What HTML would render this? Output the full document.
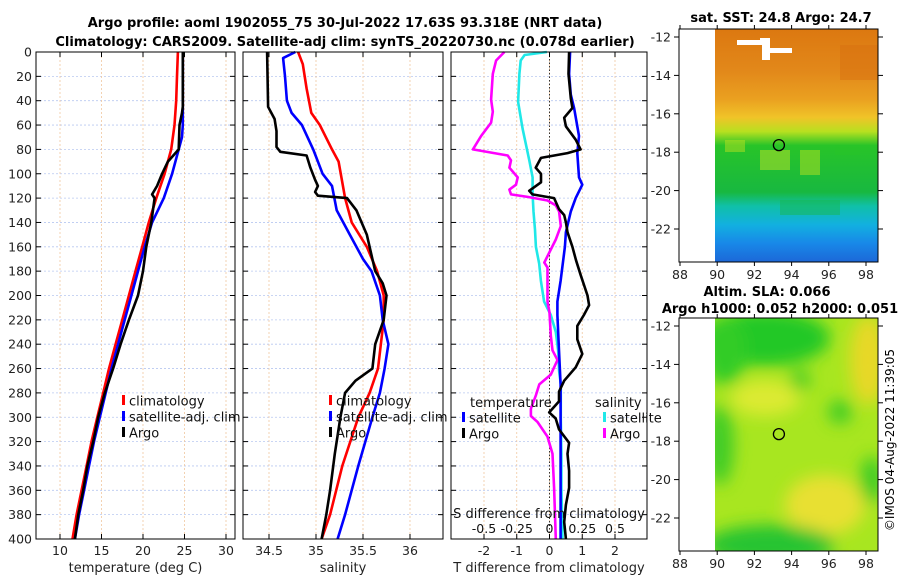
<!DOCTYPE html>
<html><head><meta charset="utf-8"><style>
body{margin:0;background:#fff}
svg{display:block;font-family:"DejaVu Sans","Liberation Sans",sans-serif}
</style></head><body>
<svg id="fig" width="900" height="580" viewBox="0 0 900 580" xmlns="http://www.w3.org/2000/svg">
<defs>
<linearGradient id="sstGrad" x1="0" y1="0" x2="0" y2="1">
<stop offset="0" stop-color="#dc7810"/><stop offset="0.18" stop-color="#e2881a"/>
<stop offset="0.3" stop-color="#eaa020"/><stop offset="0.38" stop-color="#f0c428"/>
<stop offset="0.44" stop-color="#b8e020"/><stop offset="0.5" stop-color="#28c428"/>
<stop offset="0.7" stop-color="#18b840"/><stop offset="0.76" stop-color="#10c0a8"/>
<stop offset="0.84" stop-color="#12b0e0"/><stop offset="0.92" stop-color="#1888e8"/>
<stop offset="1" stop-color="#1c68d8"/>
</linearGradient>
<filter id="blur"><feGaussianBlur stdDeviation="8"/></filter>
<clipPath id="clipSla"><rect x="715" y="318" width="163" height="233"/></clipPath>
</defs>
<g id="layer"></g>
<text x="345" y="27" text-anchor="middle" font-size="13" font-weight="bold">Argo profile: aoml 1902055_75 30-Jul-2022 17.63S 93.318E (NRT data)</text>
<text x="345" y="46" text-anchor="middle" font-size="13" font-weight="bold">Climatology: CARS2009. Satellite-adj clim: synTS_20220730.nc (0.078d earlier)</text>
<text x="781" y="22" text-anchor="middle" font-size="13" font-weight="bold">sat. SST: 24.8 Argo: 24.7</text>
<text x="767" y="296" text-anchor="middle" font-size="13" font-weight="bold">Altim. SLA: 0.066</text>
<text x="780" y="313" text-anchor="middle" font-size="13" font-weight="bold">Argo h1000: 0.052 h2000: 0.051</text>
<text transform="translate(894,440) rotate(-90)" text-anchor="middle" font-size="12">©IMOS 04-Aug-2022 11:39:05</text>
</svg>
<script>
// depth axis
const depthTicks=[0,20,40,60,80,100,120,140,160,180,200,220,240,260,280,300,320,340,360,380,400];
// temperature panel
const tDepth=[0,20,40,60,80,100,120,140,160,180,200,220,240,260,280,300,320,340,360,380,400];
const tClim=[24.2,24.1,24.0,23.8,23.4,22.6,21.6,20.7,19.9,19.1,18.3,17.5,16.7,15.9,15.2,14.5,13.8,13.2,12.6,12.0,11.5];
const tSatDepth=[0,60,70,80,100,120,140,160,180,200,220,240,260,280,300,320,340,360,380,400];
const tSat=[24.8,24.8,24.7,24.3,23.5,22.5,21.1,20.2,19.4,18.6,17.8,17.0,16.2,15.5,14.8,14.1,13.5,12.9,12.3,11.8];
const tArgoDepth=[0,45,50,60,80,90,100,110,117,120,140,160,180,200,220,240,260,280,300,320,340,360,380,400];
const tArgo=[24.8,24.8,24.7,24.4,24.3,23.0,22.3,21.7,21.1,21.4,21.0,20.4,20.0,19.4,18.3,17.3,16.4,15.4,14.6,14.0,13.3,12.8,12.2,11.8];
const tTicks=[10,15,20,25,30];
// salinity panel
const sClimDepth=[0,10,30,50,60,80,90,120,140,160,180,200,220,260,280,300,340,380,400];
const sClim=[34.81,34.86,34.90,34.95,35.04,35.17,35.24,35.31,35.38,35.54,35.65,35.72,35.72,35.66,35.57,35.45,35.28,35.15,35.06];
const sSatDepth=[0,5,20,40,50,60,80,100,110,130,150,170,180,200,220,240,260,280,300,340,380,400];
const sSat=[34.78,34.65,34.67,34.69,34.74,34.85,34.97,35.07,35.17,35.22,35.36,35.50,35.59,35.68,35.71,35.77,35.73,35.68,35.60,35.45,35.31,35.23];
const sArgoDepth=[0,45,55,65,78,82,85,95,105,110,115,118,120,130,150,170,180,190,200,220,240,260,270,280,300,330,360,380,400];
const sArgo=[34.48,34.49,34.56,34.58,34.58,34.62,34.90,34.94,34.99,35.02,34.99,35.02,35.33,35.43,35.54,35.60,35.63,35.71,35.75,35.72,35.63,35.60,35.42,35.31,35.26,35.20,35.15,35.11,35.06];
const sTicks=[34.5,35,35.5,36];
// difference panel
const dTTicks=[-2,-1,0,1,2];
const dSTicks=[-0.5,-0.25,0,0.25,0.5];
const dTSatDepth=[0,18,35,46,69,83,103,109,120,131,148,160,188,205,216,245,273,301,400];
const dTSat=[0.63,0.60,0.65,0.75,0.90,0.85,0.90,1.0,0.80,0.65,0.50,0.47,0.34,0.24,0.24,0.29,0.34,0.34,0.34];
const dTArgoDepth=[0,18,38,46,54,61,72,80,83,87,95,100,107,114,117,120,129,134,140,148,160,171,183,200,208,216,225,236,248,259,270,279,287,296,301,310,321,330,344,358,372,386,400];
const dTArgo=[0.60,0.58,0.65,0.70,0.45,0.50,0.80,0.95,0.55,-0.26,-0.42,-0.26,-0.26,-0.62,-0.52,0.14,0.29,0.45,0.50,0.55,0.70,0.81,0.95,1.16,1.21,1.05,0.85,0.85,1.00,0.80,0.45,0.29,0.29,-0.01,0.19,0.29,0.60,0.55,0.60,0.60,0.50,0.45,0.50];
const dSSatDepth=[0,2.5,7,18,41,63,89,103,117,131,146,160,174,188,205,216,230,245,262,273,301,330,358,400];
const dSSat=[-0.02,-0.19,-0.22,-0.23,-0.24,-0.205,-0.154,-0.129,-0.129,-0.122,-0.111,-0.104,-0.079,-0.066,-0.041,0.01,0.048,0.066,0.073,0.086,0.086,0.091,0.091,0.099];
const dSArgoDepth=[0,7,18,39,49,58,69,80,85,89,95,103,109,113,117,119,122,126,131,143,154,165,173,177,205,214,233,245,253,265,273,282,293,299,304,316,330,358,400];
const dSArgo=[-0.344,-0.408,-0.433,-0.446,-0.433,-0.446,-0.522,-0.585,-0.319,-0.294,-0.306,-0.243,-0.256,-0.306,-0.294,-0.167,-0.015,0.048,0.073,0.086,0.048,-0.003,-0.04,-0.015,-0.015,0,0.01,0.023,0.061,0.01,-0.078,-0.104,-0.142,-0.142,-0.091,-0.015,0.023,0.035,0.048];
// maps
const lonTicks=[88,90,92,94,96,98];
const latTicks=[-12,-14,-16,-18,-20,-22];
const argoLon=93.318, argoLat=-17.63;

const NS='http://www.w3.org/2000/svg';
const L=document.getElementById('layer');
function mk(tag,attrs,parent){const e=document.createElementNS(NS,tag);for(const k in attrs)e.setAttribute(k,attrs[k]);(parent||L).appendChild(e);return e;}
const Y0=52,Y1=539;
const yD=d=>Y0+(d/400)*(Y1-Y0);
function lin(d0,d1,r0,r1){return v=>r0+(v-d0)/(d1-d0)*(r1-r0);}
const xT=lin(10,30,60,226);
const xS=lin(34.5,36,269,410);
const xDT=lin(-2,2,484,615);
const xDS=lin(-0.5,0.5,484,615);

function panel(name,x0,x1,ticks,xf){
  const g=mk('g',{});
  
  
  depthTicks.forEach(d=>{const l=mk('line',{x1:x0,x2:x1,y1:yD(d),y2:yD(d),stroke:'#b8c8f0','stroke-width':0.8,'stroke-dasharray':'2,2'},g);
    });
  ticks.forEach(t=>{const x=xf(t);const l=mk('line',{x1:x,x2:x,y1:Y0,y2:Y1,stroke:'#f0c8a0','stroke-width':0.8,'stroke-dasharray':'2,2'},g);
    });
  return g;
}
function frame(g,x0,x1,ticks,xf,fmt,label,leftLabels){
  const r=mk('rect',{x:x0,y:Y0,width:x1-x0,height:Y1-Y0,fill:'none',stroke:'#000','stroke-width':1},g);
  
  depthTicks.forEach(d=>{const y=yD(d);
    mk('line',{x1:x0,x2:x0+5,y1:y,y2:y,stroke:'#000'},g);mk('line',{x1:x1,x2:x1-5,y1:y,y2:y,stroke:'#000'},g);
    if(leftLabels){const t=mk('text',{x:x0-4,y:y+4.5,'text-anchor':'end','font-size':12.5,fill:'#222'},g);t.textContent=d;
      }});
  ticks.forEach(v=>{const x=xf(v);mk('line',{x1:x,x2:x,y1:Y1,y2:Y1-5,stroke:'#000'},g);mk('line',{x1:x,x2:x,y1:Y0,y2:Y0+5,stroke:'#000'},g);
    const t=mk('text',{x:x,y:555,'text-anchor':'middle','font-size':12.5,fill:'#222'},g);t.textContent=fmt(v);
    });
  const t=mk('text',{x:(x0+x1)/2,y:572,'text-anchor':'middle','font-size':13,fill:'#222'},g);t.textContent=label;
  
}
function line(g,name,xs,ds,xf,color,w){
  const pts=xs.map((v,i)=>xf(v).toFixed(1)+','+yD(ds[i]).toFixed(1)).join(' ');
  const p=mk('polyline',{points:pts,fill:'none',stroke:color,'stroke-width':w||2.6,'stroke-linejoin':'round'},g);
  
}
function legendItem(g,x,y,color,text,name){
  const it=mk('g',{},g);
  mk('rect',{x:x,y:y-6,width:3,height:10,fill:color},it);
  const t=mk('text',{x:x+7,y:y+4.5,'font-size':13,fill:'#111'},it);t.textContent=text;
}
// panel 1
let g1=panel('temperature-panel',36,235,tTicks,xT);
line(g1,'temp-climatology-line',tClim,tDepth,xT,'#f00');
line(g1,'temp-satellite-line',tSat,tSatDepth,xT,'#00f');
line(g1,'temp-argo-line',tArgo,tArgoDepth,xT,'#000');
frame(g1,36,235,tTicks,xT,v=>v,'temperature (deg C)',true);
legendItem(g1,122,401,'#f00','climatology','legend-climatology');
legendItem(g1,122,417,'#00f','satellite-adj. clim','legend-satellite-adj');
legendItem(g1,122,433,'#000','Argo','legend-argo');
// panel 2
let g2=panel('salinity-panel',243,443,sTicks,xS);
line(g2,'sal-climatology-line',sClim,sClimDepth,xS,'#f00');
line(g2,'sal-satellite-line',sSat,sSatDepth,xS,'#00f');
line(g2,'sal-argo-line',sArgo,sArgoDepth,xS,'#000');
frame(g2,243,443,sTicks,xS,v=>v,'salinity',false);
legendItem(g2,329,401,'#f00','climatology','legend-climatology');
legendItem(g2,329,417,'#00f','satellite-adj. clim','legend-satellite-adj');
legendItem(g2,329,433,'#000','Argo','legend-argo');
// panel 3
let g3=panel('difference-panel',451,647,dTTicks,xDT);
const zl=mk('line',{x1:xDT(0),x2:xDT(0),y1:Y0,y2:Y1,stroke:'#333','stroke-width':1,'stroke-dasharray':'1.5,2'},g3);

line(g3,'s-diff-satellite-line',dSSat,dSSatDepth,xDS,'#20e8e8');
line(g3,'s-diff-argo-line',dSArgo,dSArgoDepth,xDS,'#f0f');
line(g3,'t-diff-satellite-line',dTSat,dTSatDepth,xDT,'#00f');
line(g3,'t-diff-argo-line',dTArgo,dTArgoDepth,xDT,'#000');
frame(g3,451,647,dTTicks,xDT,v=>v,'T difference from climatology',false);
let tt=mk('text',{x:470,y:407,'font-size':13,fill:'#111'},g3);tt.textContent='temperature';

tt=mk('text',{x:595,y:407,'font-size':13,fill:'#111'},g3);tt.textContent='salinity';

legendItem(g3,462,418,'#00f','satellite','legend-t-satellite');
legendItem(g3,462,434,'#000','Argo','legend-t-argo');
legendItem(g3,603,418,'#20e8e8','satellite','legend-s-satellite');
legendItem(g3,603,434,'#f0f','Argo','legend-s-argo');
tt=mk('text',{x:549,y:518,'text-anchor':'middle','font-size':13,fill:'#111'},g3);tt.textContent='S difference from climatology';

dSTicks.forEach(v=>{const t=mk('text',{x:xDS(v),y:533,'text-anchor':'middle','font-size':12.5,fill:'#111'},g3);t.textContent=v;
  });

// maps
const xLon=lin(88,98,680,866);
function mapAxes(name,top,bot,lat12,lat22,drawFill){
  const g=mk('g',{});
  const yLat=lin(-12,-22,lat12,lat22);
  drawFill(g);
  mk('rect',{x:679,y:top,width:199,height:bot-top,fill:'none',stroke:'#000','stroke-width':1},g);
  latTicks.forEach(v=>{const y=yLat(v);mk('line',{x1:679,x2:674,y1:y,y2:y,stroke:'#000'},g);mk('line',{x1:878,x2:883,y1:y,y2:y,stroke:'#000'},g);
    const t=mk('text',{x:671,y:y+4.5,'text-anchor':'end','font-size':12.5,fill:'#222'},g);t.textContent=v;
    });
  lonTicks.forEach(v=>{const x=xLon(v);mk('line',{x1:x,x2:x,y1:bot,y2:bot+4,stroke:'#000'},g);mk('line',{x1:x,x2:x,y1:top,y2:top-4,stroke:'#000'},g);
    const t=mk('text',{x:x,y:bot+17,'text-anchor':'middle','font-size':12.5,fill:'#222'},g);t.textContent=v;
    });
  const c=mk('circle',{cx:xLon(argoLon),cy:yLat(argoLat),r:5.5,fill:'none',stroke:'#000','stroke-width':1.3},g);
  
}
mapAxes('sst-map',29,262,37,229,g=>{
  const r=mk('rect',{x:715,y:29,width:163,height:233,fill:'url(#sstGrad)'},g);
  
  [[725,140,20,12,'#b8e020'],[760,150,30,20,'#c0e028'],[800,150,20,25,'#b8e020'],[835,145,25,10,'#28c428'],[780,200,60,15,'#18b850'],[840,45,38,35,'#d87010']].forEach(a=>
    mk('rect',{x:a[0],y:a[1],width:a[2],height:a[3],fill:a[4],opacity:0.5},g));
  const w=mk('path',{d:'M737 40 H760 V38 H770 V48 H792 V53 H770 V60 H762 V45 H737 Z',fill:'#fff'},g);
  
});
mapAxes('sla-map',318,551,326,518,g=>{
  const f=mk('g',{'clip-path':'url(#clipSla)'},g);
  
  mk('rect',{x:715,y:318,width:163,height:233,fill:'#a8e620'},f);
  const b=mk('g',{filter:'url(#blur)'},f);
  [[765,338,65,28,'#20c828'],[725,350,22,35,'#30cc28'],[765,398,35,18,'#dcea30'],[868,360,18,45,'#e8d828'],[825,505,40,30,'#e8e030'],[770,545,65,20,'#28c430'],[720,445,14,40,'#40cc28'],[840,412,12,12,'#40cc28'],[872,480,12,24,'#40cc28'],[800,380,10,10,'#40cc28']].forEach(a=>
    mk('ellipse',{cx:a[0],cy:a[1],rx:a[2],ry:a[3],fill:a[4]},b));
});
</script>
</body></html>
